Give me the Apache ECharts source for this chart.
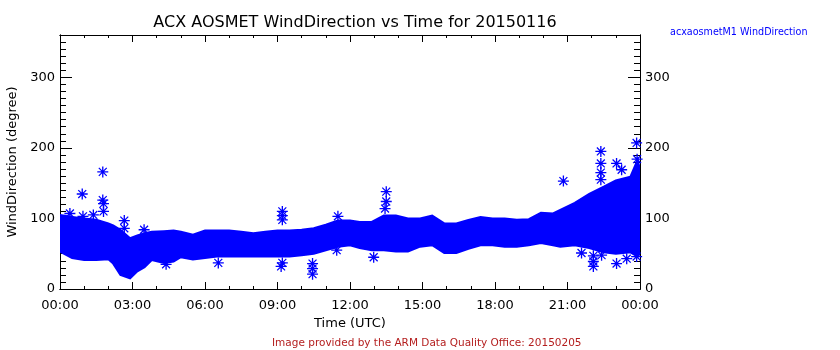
<!DOCTYPE html>
<html>
<head>
<meta charset="utf-8">
<script src="https://cdn.jsdelivr.net/npm/echarts@6/dist/echarts.min.js"></script>
<style>html,body{margin:0;padding:0;background:#fff;}#chart{width:840px;height:350px;}</style>
</head>
<body>
<div id="chart"></div>
<script>
// ---- data ----
// Envelope of the dense measurement band (hours UTC, degrees)
const bandHours  = [0.0,0.5,1.0,1.5,2.0,2.2,2.5,2.9,3.2,3.5,3.8,4.3,4.7,5.0,5.5,6.0,6.5,7.0,7.5,8.0,8.5,9.0,9.5,10.0,10.5,11.0,11.5,12.0,12.4,12.9,13.4,13.9,14.4,14.9,15.4,15.9,16.4,16.9,17.4,17.9,18.4,18.9,19.4,19.9,20.4,20.7,21.3,21.9,22.5,23.0,23.6,23.9,24.0];
const bandTop    = [105,102,100,98,93,90,84,72,76,79,81,82,83,81,77,83,83,83,81,79,81,83,83,84,86,91,97,97,95,95,104,104,100,100,104,93,93,98,102,100,100,98,99,108,107,112,122,135,145,154,159,183,170];
const bandBottom = [53,44,41,41,42,36,20,15,25,31,41,37,39,45,42,44,46,46,46,46,46,46,46,48,50,55,60,62,58,55,55,53,53,60,62,51,51,57,62,62,60,60,62,65,62,60,62,58,52,50,52,46,50];
// Isolated points outside the band
const outlierHours  = [0.41,0.92,0.95,1.38,1.77,1.77,1.80,1.80,2.66,2.66,3.48,4.39,6.55,9.20,9.20,9.20,9.15,9.20,10.45,10.45,10.45,11.50,11.45,12.98,13.50,13.50,13.45,20.83,21.58,22.07,22.07,22.07,22.38,22.38,22.38,22.38,22.41,23.03,23.03,23.24,23.45,23.86,23.88,23.86];
const outlierValues = [107,134.6,103,105,166,126,121,110,97,86,84,35,37,110,104,98,32,37,36,29,21,103,55,45,138,124,114,153,51,47,39,32,195,178,165,155,48,178,36,169,43,207,184,46];
// Axis ticks and tick labels
const xTickHours  = [0,3,6,9,12,15,18,21,24];
const xTickLabels = ['00:00','03:00','06:00','09:00','12:00','15:00','18:00','21:00','00:00'];
const xMinorHours = [0,1,2,3,4,5,6,7,8,9,10,11,12,13,14,15,16,17,18,19,20,21,22,23,24];
const yTickValues = [0,100,200,300];
const yMinorValues = [0,10,20,30,40,50,60,70,80,90,100,110,120,130,140,150,160,170,180,190,200,210,220,230,240,250,260,270,280,290,300,310,320,330,340,350,360];

const BLUE = '#0000ff';
const FONT = 'DejaVu Sans';
const asterisk = 'path://M0 4.4L10 4.4L10 5.6L0 5.6Z M4.4 0L5.6 0L5.6 10L4.4 10Z M1 1.8L1.8 1L9 8.2L8.2 9Z M8.2 1L9 1.8L1.8 9L1 8.2Z';

const chart = echarts.init(document.getElementById('chart'), null, {renderer: 'canvas'});

function xLabel(v) {
  const i = xTickHours.indexOf(v);
  return i >= 0 ? xTickLabels[i] : '';
}
function black() { return {color: '#000000', width: 1}; }

function yAx(pos, major, withName) {
  const a = {
    type: 'value', position: pos, min: 0, max: 360, interval: major ? 100 : 10,
    axisLine: {show: true, onZero: false, lineStyle: black()},
    axisTick: {show: true, inside: true, length: major ? 12 : 6, lineStyle: black(),
               customValues: major ? yTickValues : yMinorValues},
    axisLabel: major
      ? {show: true, color: '#000', fontFamily: FONT, fontSize: 13, margin: 5, customValues: yTickValues}
      : {show: false},
    splitLine: {show: false}
  };
  if (withName) {
    a.name = 'WindDirection (degree)';
    a.nameLocation = 'middle';
    a.nameGap = 34;
    a.nameTextStyle = {color: '#000', fontFamily: FONT, fontSize: 13};
  }
  return a;
}
function xAx(pos, major, withLabels) {
  const a = {
    type: 'value', position: pos, min: 0, max: 24, interval: major ? 3 : 1,
    axisLine: {show: true, onZero: false, lineStyle: black()},
    axisTick: {show: true, inside: true, length: major ? 7 : 3, lineStyle: black(),
               customValues: major ? xTickHours : xMinorHours},
    axisLabel: withLabels
      ? {show: true, formatter: xLabel, color: '#000', fontFamily: FONT, fontSize: 13, margin: 10, customValues: xTickHours}
      : {show: false},
    splitLine: {show: false}
  };
  if (withLabels) {
    a.name = 'Time (UTC)';
    a.nameLocation = 'middle';
    a.nameGap = 26;
    a.nameTextStyle = {color: '#000', fontFamily: FONT, fontSize: 13};
  }
  return a;
}

const option = {
  backgroundColor: '#fff',
  animation: false,
  title: {
    text: 'ACX AOSMET WindDirection vs Time for 20150116',
    left: 350, top: 10, textAlign: 'center',
    textStyle: {fontFamily: FONT, fontSize: 16, fontWeight: 'normal', color: '#000'}
  },
  graphic: [
    {type: 'text', left: 670, top: 27, style: {text: 'acxaosmetM1 WindDirection', fill: BLUE, font: '9.6px "DejaVu Sans"'}},
    {type: 'text', left: 272, top: 338, style: {text: 'Image provided by the ARM Data Quality Office: 20150205', fill: '#b41e1e', font: '10.5px "DejaVu Sans"'}}
  ],
  grid: {left: 60, right: 200, top: 35, bottom: 61, containLabel: false, outerBoundsMode: 'none'},
  xAxis: [xAx('bottom', true, true), xAx('bottom', false, false), xAx('top', true, false), xAx('top', false, false)],
  yAxis: [yAx('left', true, true), yAx('left', false, false), yAx('right', true, false), yAx('right', false, false)],
  series: [
    {
      type: 'custom',
      xAxisIndex: 0, yAxisIndex: 0,
      clip: true,
      data: [[0]],
      renderItem: function (params, api) {
        const pts = [];
        for (let i = 0; i < bandHours.length; i++) pts.push(api.coord([bandHours[i], bandTop[i]]));
        for (let i = bandHours.length - 1; i >= 0; i--) pts.push(api.coord([bandHours[i], bandBottom[i]]));
        return {type: 'polygon', shape: {points: pts}, style: {fill: BLUE, stroke: BLUE, lineWidth: 2}};
      }
    },
    {
      type: 'scatter',
      xAxisIndex: 0, yAxisIndex: 0,
      symbol: asterisk, symbolSize: 11,
      itemStyle: {color: BLUE, opacity: 1},
      data: outlierHours.map((t, i) => [t, outlierValues[i]])
    }
  ]
};
chart.setOption(option);
</script>
</body>
</html>
